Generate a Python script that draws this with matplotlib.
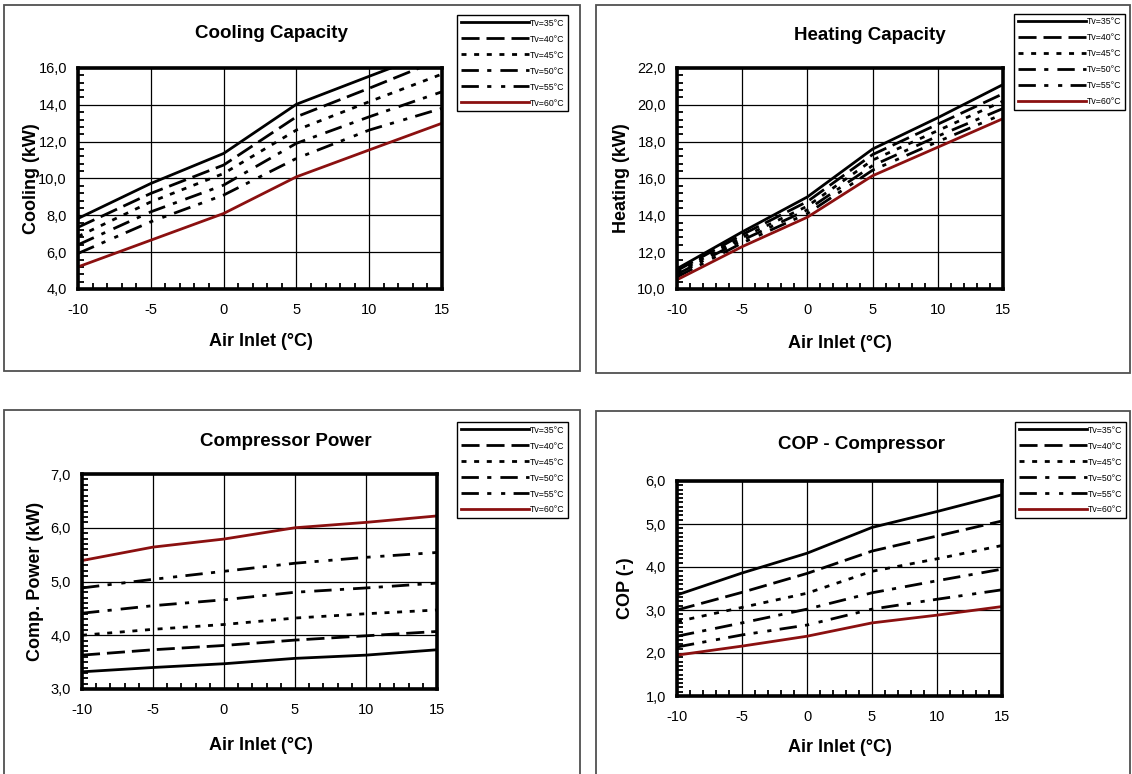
import matplotlib
matplotlib.use("Agg")
import matplotlib.pyplot as plt
from matplotlib.patches import Rectangle
from matplotlib.ticker import MultipleLocator, FuncFormatter

plt.rcParams['font.family'] = ['Liberation Sans', 'DejaVu Sans']
plt.rcParams['lines.scale_dashes'] = False
plt.rcParams['axes.unicode_minus'] = False

# data
air_inlet = [-10, -5, 0, 5, 10, 15]
labels = ["Tv=35°C", "Tv=40°C", "Tv=45°C", "Tv=50°C", "Tv=55°C", "Tv=60°C"]

cooling_35 = [7.83, 9.73, 11.36, 14.03, 15.55, 17.05]
cooling_40 = [7.35, 9.19, 10.73, 13.35, 14.9, 16.5]
cooling_45 = [6.85, 8.73, 10.27, 12.63, 14.17, 15.67]
cooling_50 = [6.4, 8.19, 9.64, 11.91, 13.35, 14.71]
cooling_55 = [5.93, 7.65, 9.1, 11.09, 12.63, 13.81]
cooling_60 = [5.2, 6.65, 8.1, 10.09, 11.55, 13.0]

heating_35 = [11.1, 13.1, 15.0, 17.6, 19.3, 21.1]
heating_40 = [11.0, 12.95, 14.75, 17.3, 18.95, 20.6]
heating_45 = [10.9, 12.8, 14.5, 17.0, 18.6, 20.2]
heating_50 = [10.8, 12.65, 14.3, 16.7, 18.3, 19.8]
heating_55 = [10.65, 12.5, 14.1, 16.45, 18.0, 19.5]
heating_60 = [10.5, 12.3, 13.9, 16.15, 17.7, 19.25]

power_35 = [3.32, 3.4, 3.47, 3.57, 3.63, 3.73]
power_40 = [3.63, 3.73, 3.81, 3.91, 3.99, 4.07]
power_45 = [4.0, 4.11, 4.2, 4.32, 4.4, 4.47]
power_50 = [4.41, 4.55, 4.66, 4.8, 4.88, 4.97]
power_55 = [4.88, 5.04, 5.19, 5.34, 5.45, 5.54]
power_60 = [5.39, 5.64, 5.79, 6.0, 6.1, 6.22]

cop_35 = [3.35, 3.86, 4.32, 4.92, 5.29, 5.68]
cop_40 = [3.0, 3.41, 3.85, 4.37, 4.72, 5.07]
cop_45 = [2.73, 3.06, 3.39, 3.9, 4.19, 4.5]
cop_50 = [2.39, 2.7, 3.02, 3.4, 3.68, 3.95]
cop_55 = [2.14, 2.42, 2.65, 3.02, 3.25, 3.47]
cop_60 = [1.95, 2.16, 2.39, 2.7, 2.88, 3.08]

styles = [
    dict(color='black', linestyle='-'),
    dict(color='black', linestyle=(0, (13, 5))),
    dict(color='black', linestyle=(0, (3.6, 5.5))),
    dict(color='black', linestyle=(0, (12.5, 6, 3, 6.5))),
    dict(color='black', linestyle=(0, (12.5, 6, 3, 7, 3, 6))),
    dict(color='#8b1010', linestyle='-'),
]

W, H = 1132, 774
fig = plt.figure(figsize=(W / 100, H / 100), dpi=100)


def px_box(x0, y0, x1, y1):
    return [x0 / W, 1 - y1 / H, (x1 - x0) / W, (y1 - y0) / H]


# panel frames
for (x0, y0, x1, y1) in [(4, 5, 580, 371), (596, 5, 1130, 373),
                         (4, 410, 580, 790), (596, 411, 1130, 790)]:
    fig.patches.append(Rectangle((x0 / W, 1 - y1 / H), (x1 - x0) / W, (y1 - y0) / H,
                                 transform=fig.transFigure, fill=False,
                                 edgecolor='#505050', linewidth=1.3))

panels = [
    dict(box=(78, 68, 442, 289), series=[cooling_35, cooling_40, cooling_45, cooling_50, cooling_55, cooling_60],
         ylim=(4, 16), major=2, minor=0.4, title="Cooling Capacity", title_xy=(271, 33),
         ylabel="Cooling (kW)", ylabel_x=32, xlabel_xy=(261, 342), legend_xy=(457, 15)),
    dict(box=(677, 68, 1003, 289), series=[heating_35, heating_40, heating_45, heating_50, heating_55, heating_60],
         ylim=(10, 22), major=2, minor=0.4, title="Heating Capacity", title_xy=(870, 36),
         ylabel="Heating (kW)", ylabel_x=622, xlabel_xy=(840, 344), legend_xy=(1014, 14)),
    dict(box=(82, 474, 437, 689), series=[power_35, power_40, power_45, power_50, power_55, power_60],
         ylim=(3, 7), major=1, minor=0.1, title="Compressor Power", title_xy=(286, 441),
         ylabel="Comp. Power (kW)", ylabel_x=36, xlabel_xy=(261, 745), legend_xy=(457, 422)),
    dict(box=(677, 481, 1002, 696), series=[cop_35, cop_40, cop_45, cop_50, cop_55, cop_60],
         ylim=(1, 6), major=1, minor=0.1, title="COP - Compressor", title_xy=(861, 445),
         ylabel="COP (-)", ylabel_x=626, xlabel_xy=(840, 747), legend_xy=(1015, 422)),
]

for p in panels:
    x0, y0, x1, y1 = p['box']
    ax = fig.add_axes(px_box(x0, y0, x1, y1))
    handles = []
    for vals, st, lab in zip(p['series'], styles, labels):
        h, = ax.plot(air_inlet, vals, linewidth=2.0, label=lab, **st)
        handles.append(h)
    ax.set_xlim(-10, 15)
    ax.set_ylim(*p['ylim'])
    ax.xaxis.set_major_locator(MultipleLocator(5))
    ax.xaxis.set_minor_locator(MultipleLocator(1))
    ax.yaxis.set_major_locator(MultipleLocator(p['major']))
    ax.yaxis.set_minor_locator(MultipleLocator(p['minor']))
    ax.yaxis.set_major_formatter(FuncFormatter(lambda v, pos: f"{v:.1f}".replace('.', ',')))
    ax.grid(True, which='major', color='black', linewidth=0.9)
    ax.set_axisbelow(True)
    for s in ax.spines.values():
        s.set_linewidth(2.6)
    ax.tick_params(which='both', direction='in', labelsize=10.5)
    ax.tick_params(which='major', length=0, pad=8)
    ax.tick_params(which='minor', length=4, width=1.3)
    ax.tick_params(axis='x', which='major', pad=10)

    fig.text(p['title_xy'][0] / W, 1 - p['title_xy'][1] / H, p['title'],
             ha='center', va='center', fontsize=13.5, fontweight='bold')
    fig.text(p['xlabel_xy'][0] / W, 1 - p['xlabel_xy'][1] / H, "Air Inlet (°C)",
             ha='center', va='center', fontsize=13, fontweight='bold')
    fig.text(p['ylabel_x'] / W, 1 - ((y0 + y1) / 2) / H, p['ylabel'],
             ha='center', va='center', rotation=90, fontsize=13, fontweight='bold')

    lx, ly = p['legend_xy']
    leg = ax.legend(handles=handles, loc='upper left',
                    bbox_to_anchor=(lx / W, 1 - ly / H), bbox_transform=fig.transFigure,
                    fontsize=6.3, handlelength=7.8, handletextpad=0.1, labelspacing=0.8,
                    borderpad=0.4, borderaxespad=0, fancybox=False, framealpha=1)
    leg.get_frame().set_edgecolor('black')
    leg.get_frame().set_linewidth(1.0)

fig.savefig("out.png", dpi=100)
